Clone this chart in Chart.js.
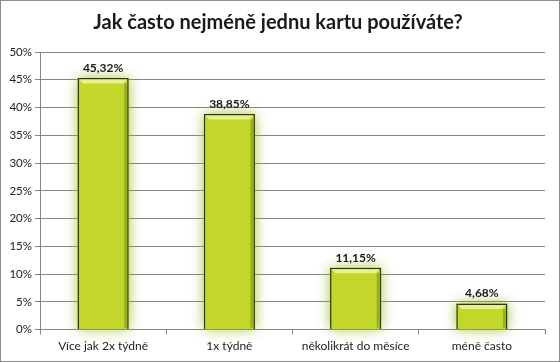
<!DOCTYPE html>
<html>
<head>
<meta charset="utf-8">
<script src="https://cdn.jsdelivr.net/npm/chart.js@4"></script>
<style>
  html, body { margin: 0; padding: 0; background: #fff; }
  #wrap { position: relative; width: 558px; height: 360px; border: 1px solid #8c8c8c; }
</style>
</head>
<body>
<div id="wrap"><canvas id="myChart" width="558" height="360"></canvas></div>
<script>
const categories = ['Více jak 2x týdně', '1x týdně', 'několikrát do měsíce', 'méně často'];
const shares = [45.32, 38.85, 11.15, 4.68];
const shareLabels = ['45,32%', '38,85%', '11,15%', '4,68%'];
const titleText = 'Jak často nejméně jednu kartu používáte?';

const ctx = document.getElementById('myChart').getContext('2d');

// soft green glow behind the bars
const glow = {
    id: 'glow',
    beforeDatasetsDraw(chart) {
        const c = chart.ctx;
        const meta = chart.getDatasetMeta(0);
        c.save();
        c.shadowColor = 'rgba(130, 175, 10, 0.8)';
        c.shadowBlur = 13;
        c.fillStyle = '#c2d72a';
        meta.data.forEach((bar) => {
            const p = bar.getProps(['x', 'y', 'base', 'width'], true);
            c.fillRect(p.x - p.width / 2, p.y, p.width, p.base - p.y);
        });
        c.restore();
    },
    afterDatasetsDraw(chart) {
        // light bevel on top and shade on the right inside edge
        const c = chart.ctx;
        const meta = chart.getDatasetMeta(0);
        c.save();
        meta.data.forEach((bar) => {
            const p = bar.getProps(['x', 'y', 'base', 'width'], true);
            const l = p.x - p.width / 2 + 1.5, r = p.x + p.width / 2 - 1.5;
            c.fillStyle = 'rgba(235, 245, 150, 0.9)';
            c.beginPath();
            c.moveTo(l, p.y + 1.5);
            c.lineTo(r, p.y + 1.5);
            c.lineTo(r - 4, p.y + 5.5);
            c.lineTo(l + 4, p.y + 5.5);
            c.closePath();
            c.fill();
            c.fillStyle = 'rgba(120, 150, 20, 0.6)';
            c.fillRect(r - 3, p.y + 5.5, 3, p.base - p.y - 7);
        });
        c.restore();
    },
};

// title and value labels
const texts = {
    id: 'texts',
    afterDraw(chart) {
        const c = chart.ctx;
        const meta = chart.getDatasetMeta(0);
        c.save();
        c.fillStyle = '#1a1a1a';
        c.textAlign = 'center';
        c.textBaseline = 'middle';
        c.font = 'bold 20px Lato, "DejaVu Sans", sans-serif';
        c.fillText(titleText, 277, 22);
        c.font = 'bold 12px Lato, "DejaVu Sans", sans-serif';
        c.textBaseline = 'bottom';
        meta.data.forEach((bar, i) => {
            c.fillText(shareLabels[i], bar.x, bar.y - 4);
        });
        c.restore();
    },
};

new Chart(ctx, {
    type: 'bar',
    data: {
        labels: categories,
        datasets: [
            {
                data: shares,
                backgroundColor: '#c2d72a',
                borderColor: '#2b3510',
                borderWidth: 1.5,
                barPercentage: 0.405,
                categoryPercentage: 1,
            },
        ],
    },
    options: {
        responsive: false,
        animation: false,
        layout: { padding: { left: 5, right: 14, top: 51, bottom: 4 } },
        plugins: {
            legend: { display: false },
            tooltip: { enabled: false },
            title: { display: false },
        },
        scales: {
            x: {
                offset: true,
                grid: {
                    offset: true,
                    drawOnChartArea: false,
                    color: '#868686',
                    tickLength: 5,
                },
                border: { color: '#868686' },
                ticks: {
                    color: '#222',
                    font: { family: 'Lato, "DejaVu Sans", sans-serif', size: 12 },
                    padding: 4,
                },
            },
            y: {
                min: 0,
                max: 50,
                afterFit(scale) { scale.width = 34; },
                grid: { color: '#868686', tickLength: 5 },
                border: { color: '#868686' },
                ticks: {
                    stepSize: 5,
                    color: '#222',
                    padding: 3,
                    font: { family: 'Lato, "DejaVu Sans", sans-serif', size: 11.5 },
                    callback: (v) => v + '%',
                },
            },
        },
    },
    plugins: [glow, texts],
});
</script>
</body>
</html>
